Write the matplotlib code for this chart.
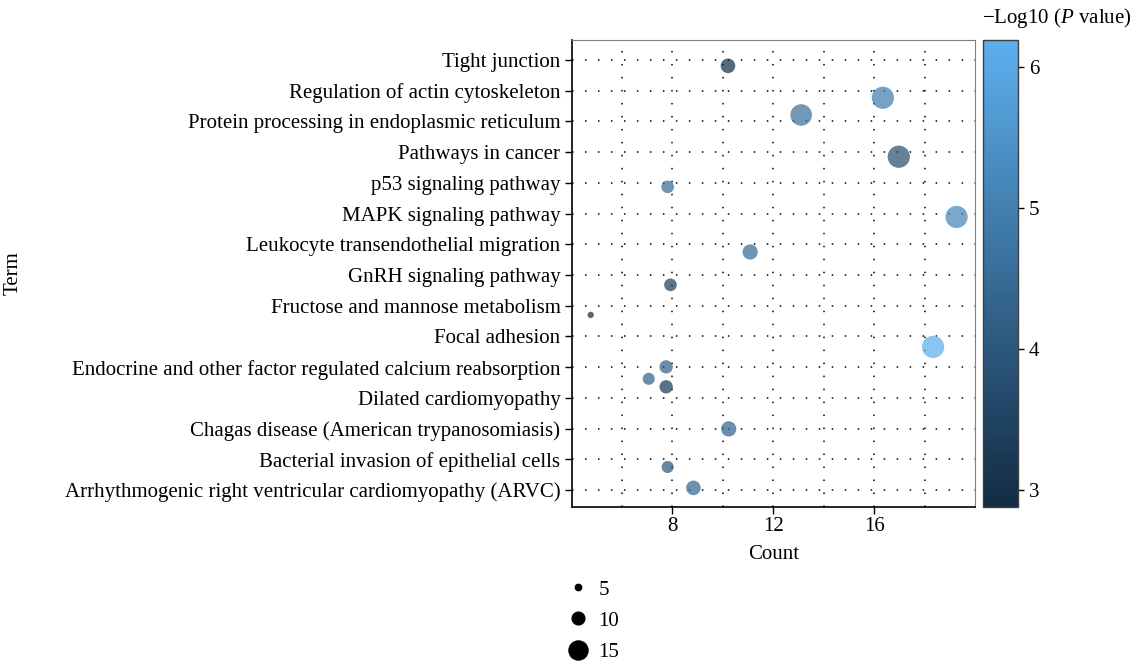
import matplotlib
matplotlib.use("Agg")
import matplotlib.pyplot as plt
from matplotlib.colors import LinearSegmentedColormap
from matplotlib.lines import Line2D
import numpy as np

plt.rcParams["font.family"] = ["Liberation Serif", "DejaVu Serif"]
plt.rcParams["mathtext.fontset"] = "custom"
plt.rcParams["mathtext.it"] = "Liberation Serif:italic"
plt.rcParams["mathtext.rm"] = "Liberation Serif"

# terms, bottom to top
terms = [
    "Arrhythmogenic right ventricular cardiomyopathy (ARVC)",
    "Bacterial invasion of epithelial cells",
    "Chagas disease (American trypanosomiasis)",
    "Dilated cardiomyopathy",
    "Endocrine and other factor regulated calcium reabsorption",
    "Focal adhesion",
    "Fructose and mannose metabolism",
    "GnRH signaling pathway",
    "Leukocyte transendothelial migration",
    "MAPK signaling pathway",
    "p53 signaling pathway",
    "Pathways in cancer",
    "Protein processing in endoplasmic reticulum",
    "Regulation of actin cytoskeleton",
    "Tight junction",
]

# points (jittered rows)
count = [8.83, 7.81, 10.23, 7.75, 7.06, 7.75, 18.33, 4.76, 7.92, 11.08,
         19.26, 7.81, 16.97, 13.1, 16.34, 10.2]
row_y = [0.07, 0.75, 1.99, 3.36, 3.62, 4.01, 4.66, 5.70, 6.68, 7.75,
         8.89, 9.87, 10.85, 12.21, 12.77, 13.81]
gene_n = [11.5, 9.5, 12, 10.5, 9.5, 10.5, 17.5, 5, 10, 12,
          17.5, 10, 17.5, 17, 17.5, 11.5]
logp = [4.4, 4.0, 4.3, 3.3, 4.3, 4.3, 6.19, 2.88, 3.4, 4.5,
        5.2, 4.5, 3.8, 4.6, 5.0, 3.0]

size_ticks = [5, 10, 15]
cbar_ticks = [3, 4, 5, 6]

cmap = LinearSegmentedColormap.from_list("gg", ["#132B43", "#5DAFEE"])

def msize(v):
    return (0.914 * np.asarray(v)) ** 2

fig = plt.figure(figsize=(11.34, 6.67), dpi=100)
ax = fig.add_axes([0.504, 0.240, 0.356, 0.700])
cax = fig.add_axes([0.867, 0.240, 0.031, 0.700])

ax.set_xlim(4, 20)
ax.set_ylim(-0.55, 14.65)

for x in range(6, 20, 2):
    ax.axvline(x, color="black", lw=1.1, ls=(0, (1, 7.5)), zorder=0)
for y in range(len(terms)):
    ax.axhline(y, color="black", lw=1.1, ls=(0, (1, 7.5)), zorder=0)

sc = ax.scatter(count, row_y, s=msize(gene_n), c=logp, cmap=cmap,
                vmin=2.88, vmax=6.19, alpha=0.72, edgecolors="none", zorder=3)

fs = 15
ax.set_yticks(range(len(terms)))
ax.set_yticklabels(terms, fontsize=fs)
ax.set_xticks([8, 12, 16])
ax.tick_params(axis="x", labelsize=fs, length=5, width=1, pad=2)
ax.tick_params(axis="y", length=5, width=1, pad=3)
ax.set_xlabel("Count", fontsize=fs, labelpad=7)
ax.set_ylabel("Term", fontsize=fs)
ax.yaxis.set_label_coords(-1.36, 0.5)
ax.spines["left"].set_color("black")
ax.spines["bottom"].set_color("black")
ax.spines["left"].set_linewidth(1.2)
ax.spines["bottom"].set_linewidth(1.2)
ax.spines["top"].set_color("#808080")
ax.spines["right"].set_color("#808080")

# colorbar
norm = plt.Normalize(2.88, 6.19)
cb = fig.colorbar(plt.cm.ScalarMappable(norm=norm, cmap=cmap), cax=cax)
cb.set_ticks(cbar_ticks)
cb.ax.tick_params(labelsize=fs, length=4, width=1)
cb.outline.set_edgecolor("#404040")
cb.outline.set_linewidth(1)
fig.text(0.866, 0.955, r"$-$Log10 ($P$ value)", fontsize=fs, ha="left", va="bottom")

# size legend
handles = [Line2D([], [], ls="none", marker="o", color="black",
                  markersize=0.914 * v) for v in size_ticks]
fig.legend(handles, [str(v) for v in size_ticks], loc="upper left",
           bbox_to_anchor=(0.491, 0.143), frameon=False, fontsize=fs,
           handlelength=1.2, handletextpad=0.4, labelspacing=0.56,
           borderaxespad=0)

fig.savefig("out.png", dpi=100)
